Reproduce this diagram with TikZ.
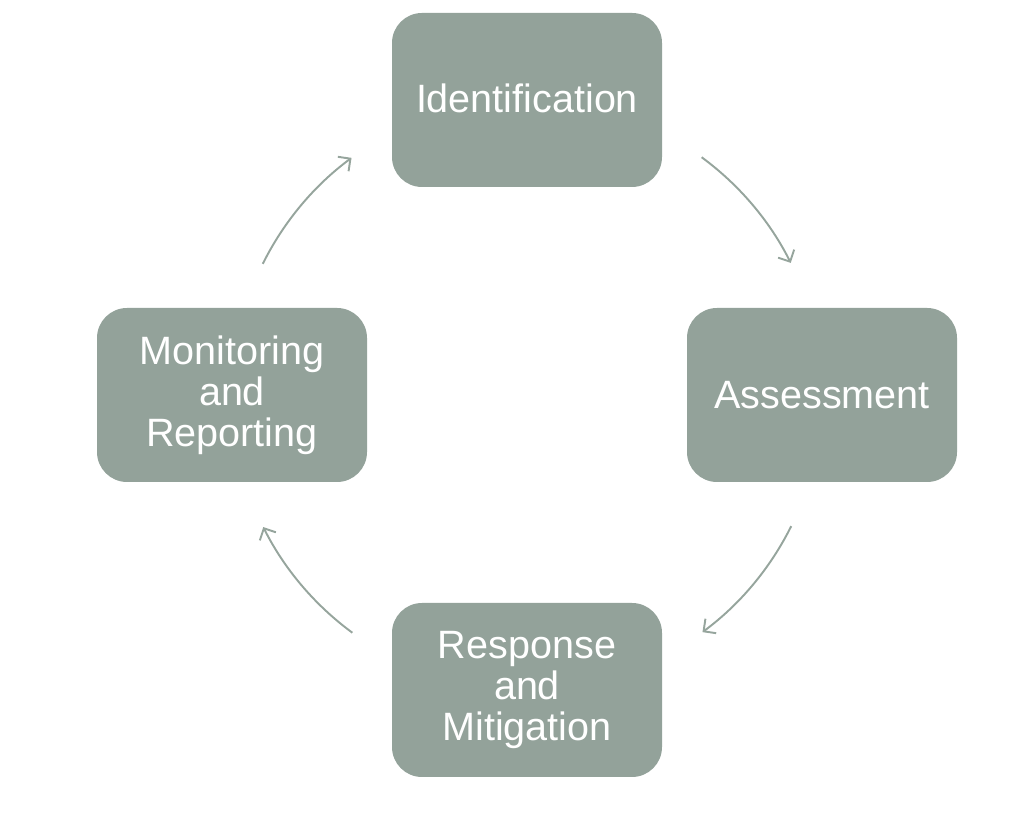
\documentclass[tikz,border=0pt]{standalone}
\usepackage{fontspec}
\setmainfont{Liberation Sans}
\usetikzlibrary{calc,positioning,arrows.meta}
\definecolor{stagefill}{RGB}{147,162,154}
\definecolor{cyclegray}{RGB}{150,165,157}

\begin{document}
\begin{tikzpicture}[stage/.style={fill=stagefill,draw=none,rounded corners=0.6cm,minimum width=5.4cm,minimum height=3.48cm,align=center,text=white,font=\fontsize{22.5}{23.3}\selectfont,inner sep=0pt},
  cyclearrow/.style={draw=cyclegray,line width=1.1pt,-{Straight Barb[length=1.8mm,width=3.6mm,line width=1.1pt]}}]
\useasboundingbox (0,0) rectangle (20.7,16.32);
\coordinate (hub) at (10.54,8.42);
\node [stage] (Identification) at ($(hub)+(0,5.9)$) {\raisebox{2pt}{Identification}};
\node [stage] (Assessment) at ($(hub)+(5.9,0)$) {Assessment};
\node [stage] (Response) at ($(hub)+(0,-5.9)$) {Response\\and\\Mitigation};
\node [stage] (Monitoring) at ($(hub)+(-5.9,0)$) {Monitoring\\and\\Reporting};
% arrows round the cycle
\foreach \a in {53.7,-26.4,-126.3,153.6}
  \draw [cyclearrow] ($(hub)+(\a:5.9)$) arc [start angle=\a, delta angle=-27.1, radius=5.9];
\end{tikzpicture}
\end{document}
